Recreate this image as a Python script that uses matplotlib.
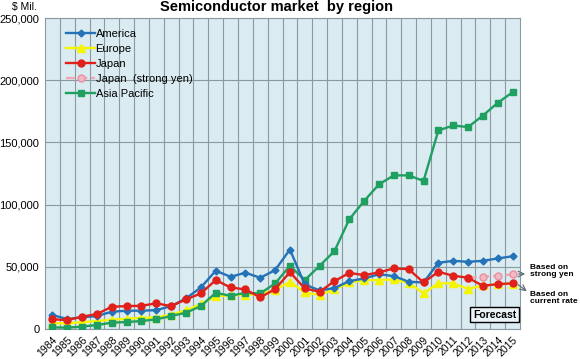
import numpy as np
import matplotlib
matplotlib.use('Agg')
import matplotlib.pyplot as plt

plt.rcParams['font.family'] = ['Liberation Sans', 'DejaVu Sans']

years = [str(y) for y in range(1984, 2016)]

america = [11200, 8000, 9400, 10400, 13900, 14700, 14700, 15200, 18400, 24600,
           33400, 46800, 42000, 45200, 41200, 47300, 63900, 35800, 31000, 32900,
           38500, 40600, 44000, 42500, 38000, 37400, 53200, 54800, 54000, 54800,
           56700, 58500]
europe = [4800, 4500, 5500, 6300, 7500, 8200, 9000, 9200, 11500, 15000,
          20000, 26500, 27000, 27500, 28000, 31300, 38000, 29400, 27300, 31800,
          37400, 39300, 39300, 39800, 37200, 28600, 36700, 36700, 32100, 35000,
          35800, 36500]
japan = [7800, 7200, 9900, 12000, 17900, 18400, 18700, 20600, 18400, 23800,
         28600, 39300, 33400, 31800, 25400, 32000, 45700, 32600, 29900, 38500,
         45100, 43300, 45500, 48700, 48100, 37400, 46000, 42800, 41200, 34700,
         36100, 36700]
japan_strong = [np.nan] * 28 + [41200, 42000, 42800, 43900]
asia = [1300, 1100, 1900, 3200, 5100, 5600, 6400, 7800, 10400, 13100,
        18400, 29100, 26700, 29100, 28600, 36600, 50800, 39300, 50800, 62600,
        88200, 102900, 116300, 123500, 123500, 119000, 159600, 163600, 162300, 171600,
        181800, 190300]

W, H = 580, 359
fig = plt.figure(figsize=(W / 100, H / 100), dpi=100)
ax = fig.add_axes([45 / W, 1 - 329 / H, 475 / W, 311 / H])
ax.set_facecolor('#DAEBF1')

x = np.arange(len(years))
ax.plot(x, america, color='#2472B8', lw=1.7, marker='D', ms=3.5, label='America', zorder=5)
ax.plot(x, europe, color='#F5F500', lw=1.7, marker='^', ms=5.5, label='Europe', zorder=3)
ax.plot(x, japan, color='#E0201B', lw=1.7, marker='o', ms=5, label='Japan', zorder=6)
ax.plot(x, japan_strong, color='#F2A6B4', lw=1.7, ls='--', marker='o', ms=5,
        mfc='#F4B8C4', mec='#E890A0', label='Japan  (strong yen)', zorder=4)
ax.plot(x, asia, color='#1FA060', lw=1.7, marker='s', ms=4.5, label='Asia Pacific', zorder=4)

ax.set_xlim(-0.5, len(years) - 0.5)
ax.set_ylim(0, 250000)
ax.set_yticks(np.arange(0, 250001, 50000))
ax.set_yticklabels([f'{v:,}' for v in range(0, 250001, 50000)], fontsize=8)
ax.set_xticks(x)
ax.set_xticklabels(years, rotation=45, ha='right', rotation_mode='anchor', fontsize=7.5)
ax.tick_params(length=0, pad=4)
ax.set_xticks(x[:-1] + 0.5, minor=True)
ax.tick_params(which='minor', length=0)
ax.grid(axis='x', which='minor', color='#8A9AA0', lw=0.8)
ax.grid(axis='y', which='major', color='#8A9AA0', lw=0.8)
ax.set_axisbelow(True)
for s in ax.spines.values():
    s.set_color('#8A9AA0')
    s.set_linewidth(0.8)

ax.legend(loc='upper left', bbox_to_anchor=(0.035, 0.98), frameon=False,
          fontsize=8, handlelength=2.6, handletextpad=0.05, labelspacing=0.45,
          borderaxespad=0)

fig.text(277 / W, 1 - 11 / H, 'Semiconductor market  by region', ha='center',
         va='baseline', fontsize=10.5, fontweight='bold')
fig.text(12 / W, 1 - 10 / H, '$ Mil.', fontsize=7.5, va='baseline')

ax.text(0.992, 0.03, 'Forecast', transform=ax.transAxes, ha='right', va='bottom',
        fontsize=7.5, fontweight='bold',
        bbox=dict(boxstyle='square,pad=0.25', fc='#EAF3F7', ec='black', lw=1))

ax.annotate('', xy=(528 / W, 1 - 274 / H), xycoords='figure fraction',
            xytext=(516 / W, 1 - 274 / H), textcoords='figure fraction',
            arrowprops=dict(arrowstyle='->', color='#607078', lw=0.9))
ax.annotate('', xy=(529 / W, 1 - 293 / H), xycoords='figure fraction',
            xytext=(516 / W, 1 - 283 / H), textcoords='figure fraction',
            arrowprops=dict(arrowstyle='->', color='#607078', lw=0.9))
fig.text(530 / W, 1 - 271 / H, 'Based on\nstrong yen', fontsize=6, fontweight='bold',
         va='center', linespacing=1.15)
fig.text(530 / W, 1 - 298 / H, 'Based on\ncurrent rate', fontsize=6, fontweight='bold',
         va='center', linespacing=1.15)

fig.savefig('out.png', dpi=100)
